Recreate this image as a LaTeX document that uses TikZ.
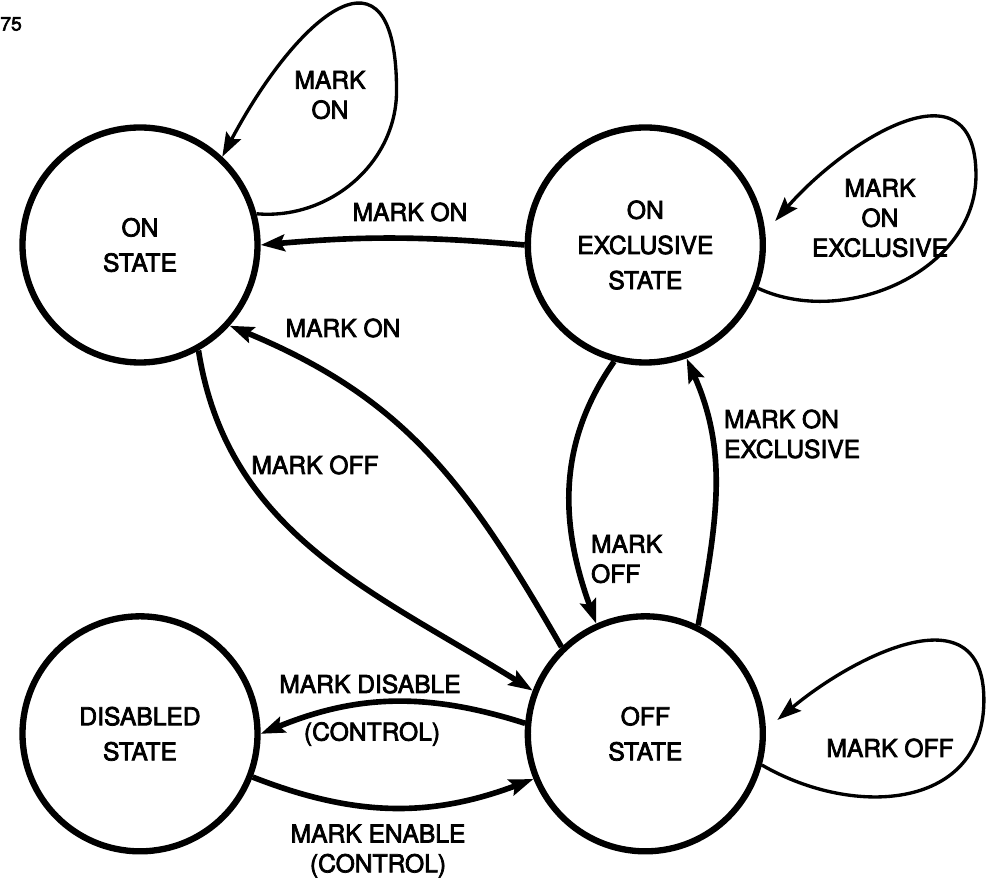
\documentclass[tikz,border=0pt]{standalone}
\usepackage{fontspec}
\setmainfont{TeX Gyre Heros}[FakeBold=3]
\usetikzlibrary{positioning, arrows.meta}

\begin{document}
\begin{tikzpicture}[
            font=\fontsize{14}{17}\selectfont,
            >={Stealth[length=4.8mm, width=3.3mm, inset=0.8mm]},
            node distance=4.95cm and 5.28cm,
            statecirc/.style={circle, draw, line width=3.6pt, minimum size=4.7cm, align=center, font=\fontsize{14}{20}\selectfont},
            arrow/.style={->, line width=3.2pt},
            loopline/.style={->, line width=1.9pt},
            lbl/.style={inner sep=1pt, align=center}
        ]
        \useasboundingbox (-2.8,4.9) rectangle (17.06,-12.72);
        \node[statecirc] (on) {ON\\STATE};
        \node[statecirc, right=of on] (onex) {ON\\EXCLUSIVE\\STATE};
        \node[statecirc, below=of on] (dis) {DISABLED\\STATE};
        \node[statecirc, below=of onex] (off) {OFF\\STATE};
        % self loops
        \draw[loopline] (on.15) to[out=-5, in=-90] ++(2.8,2.46) to[out=90, in=62, looseness=2.2] (on.47);
        \draw[loopline, shorten >=3mm] (onex.-21) to[out=-25, in=-90] ++(4.36,2.26) to[out=90, in=49, looseness=1.4] (onex.6);
        \draw[loopline, shorten >=3mm] (off.-15) to[out=-30, in=-90, looseness=1.2] ++(4.44,1.3) to[out=90, in=40, looseness=1.3] (off.2);
        % transitions
        \draw[arrow] (onex.180) to[bend right=5] (on.0);
        \draw[arrow] (off.134) to[out=120, in=-22.5, looseness=1.05] (on.-42);
        \draw[arrow] (on.-61) to[out=-81, in=148] (off.159);
        \draw[arrow] (onex.-105) to[out=-125, in=110] (off.114);
        \draw[arrow] (off.64) to[out=80, in=-66] (onex.-70);
        \draw[arrow] (off.175) to[bend right=20] (dis.0);
        \draw[arrow] (dis.-21) to[bend right=21] (off.-158);
        % labels
        \node[inner sep=0pt, anchor=west, font=\fontsize{11}{13}\selectfont] (pageno) at (-2.8,4.42) {75};
        \node[lbl] (l-onloop) at (3.8,3.0) {MARK\\ON};
        \node[lbl] (l-onex-on) at (5.4,0.66) {MARK ON};
        \node[lbl] (l-off-on) at (4.06,-1.66) {MARK ON};
        \node[lbl] (l-on-off) at (3.5,-4.4) {MARK OFF};
        \node[lbl] (l-onexloop) at (14.8,0.54) {MARK\\ON\\EXCLUSIVE};
        \node[lbl, align=left, anchor=west] (l-off-onex) at (11.64,-3.78) {MARK ON\\EXCLUSIVE};
        \node[lbl, align=left, anchor=west] (l-onex-off) at (8.98,-6.28) {MARK\\OFF};
        \node[lbl] (l-disable) at (4.6,-8.78) {MARK DISABLE};
        \node[lbl] (l-disable2) at (4.64,-9.78) {(CONTROL)};
        \node[lbl] (l-enable) at (4.76,-12.12) {MARK ENABLE\\(CONTROL)};
        \node[lbl] (l-offloop) at (15.0,-10.06) {MARK OFF};
\end{tikzpicture}
\end{document}
